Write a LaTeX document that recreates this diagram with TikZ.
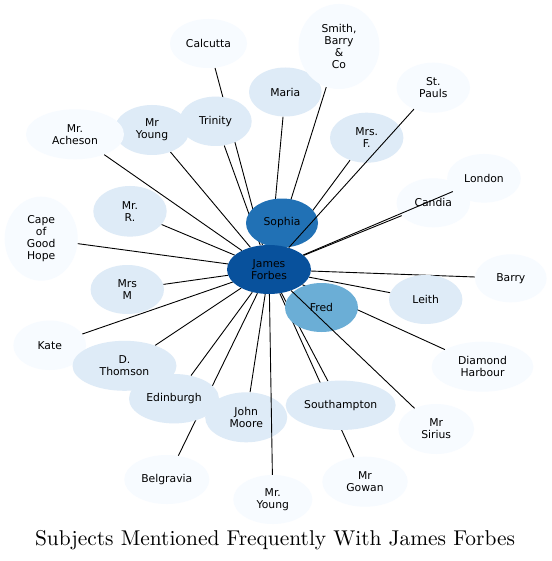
\documentclass[tikz,border=0pt]{standalone}
\usepackage{fontspec}
\newfontfamily\nodefont{DejaVu Sans}
\newfontfamily\titlefont{lmroman10-regular}[Extension=.otf]
\usetikzlibrary{shapes.geometric,backgrounds}
\definecolor{bA}{HTML}{F7FBFF}
\definecolor{bB}{HTML}{DEEBF7}
\definecolor{bE}{HTML}{6BAED6}
\definecolor{bG}{HTML}{2171B5}
\definecolor{bH}{HTML}{08519C}
\tikzset{
  nd/.style 2 args={ellipse, draw=none, inner sep=0pt, align=center,
    minimum width=#1pt, minimum height=#2pt,
    font=\nodefont\fontsize{10.8}{12}\selectfont, text=black},
  lt/.style={fill=bA},
  md/.style={fill=bB},
  edge/.style={draw=black, line width=0.9pt},
}
\begin{document}
\begin{tikzpicture}[x=1pt,y=-1pt]
\useasboundingbox (0,0) rectangle (551,561);
% nodes
\node[nd={77}{49},lt] (calcutta) at (208.5,43.5) {Calcutta};
\node[nd={72.6}{49},md] (maria) at (285.3,92) {Maria};
\node[nd={81}{85},lt] (smith) at (339,46.5) {Smith,\\Barry\\\&\\Co};
\node[nd={73.4}{50},lt] (stpauls) at (433.3,87.7) {St.\\Pauls};
\node[nd={73.4}{50},md] (mrsf) at (366.7,137.7) {Mrs.\\F.};
\node[nd={73.6}{48.6},lt] (london) at (484,178.3) {London};
\node[nd={73.4}{49},lt] (candia) at (433.3,202.8) {Candia};
\node[nd={71.6}{48},lt] (barry) at (510.8,278.3) {Barry};
\node[nd={75}{50},md] (mryoung) at (152,130) {Mr\\Young};
\node[nd={72.4}{49.4},md] (trinity) at (215.5,121.3) {Trinity};
\node[nd={98}{50},lt] (acheson) at (75,134.3) {Mr.\\Acheson};
\node[nd={73.4}{50.6},md] (mrr) at (130,211.3) {Mr.\\R.};
\node[nd={73}{84},lt] (cape) at (41.2,238.7) {Cape\\of\\Good\\Hope};
\node[nd={73.4}{49},md] (mrsm) at (127.3,289.5) {Mrs\\M};
\node[nd={72.6}{49.4},lt] (kate) at (49.7,345.3) {Kate};
\node[nd={104}{50},md] (thomson) at (124.5,365.8) {D.\\Thomson};
\node[nd={82}{50},md] (johnmoore) at (246.2,417.3) {John\\Moore};
\node[nd={90}{49.4},md] (edinburgh) at (174,398.7) {Edinburgh};
\node[nd={85}{49},lt] (belgravia) at (166.8,479.5) {Belgravia};
\node[nd={79}{49},lt] (mryoungb) at (272.8,499.5) {Mr.\\Young};
\node[nd={110}{49.4},md] (southampton) at (340.7,405.3) {Southampton};
\node[nd={85.4}{50},lt] (gowan) at (365,481.7) {Mr\\Gowan};
\node[nd={75.6}{50},lt] (sirius) at (436.2,429) {Mr\\Sirius};
\node[nd={101.6}{50},lt] (diamond) at (482.5,366.7) {Diamond\\Harbour};
\node[nd={73.4}{49},md] (leith) at (425.7,299.5) {Leith};
\node[nd={72}{49},fill=bG] (sophia) at (282,223) {Sophia};
\node[nd={73}{49},fill=bE] (fred) at (321.5,307.5) {Fred};
\node[nd={84}{49},fill=bH] (jf) at (269,269.5) {James\\Forbes};
% edges below nodes
\begin{pgfonlayer}{background}
\fill[white] (0,0) rectangle (551,561);
\foreach \t in {calcutta,maria,smith,mrsf,candia,barry,mryoung,trinity,
  acheson,mrr,cape,mrsm,kate,thomson,johnmoore,edinburgh,belgravia,
  southampton,gowan,diamond,leith}
  {\draw[edge] (jf) -- (\t);}
\end{pgfonlayer}
% edges drawn over nodes
\draw[edge] (jf) -- (stpauls);
\draw[edge] (jf) -- (london);
\draw[edge] (jf) -- (sirius);
\draw[edge] (jf) -- (mryoungb);
% title
\node[anchor=base, font=\titlefont\fontsize{21.4}{25}\selectfont, inner sep=0pt] (title) at (275,545)
  {Subjects Mentioned Frequently With James Forbes};
\end{tikzpicture}
\end{document}
